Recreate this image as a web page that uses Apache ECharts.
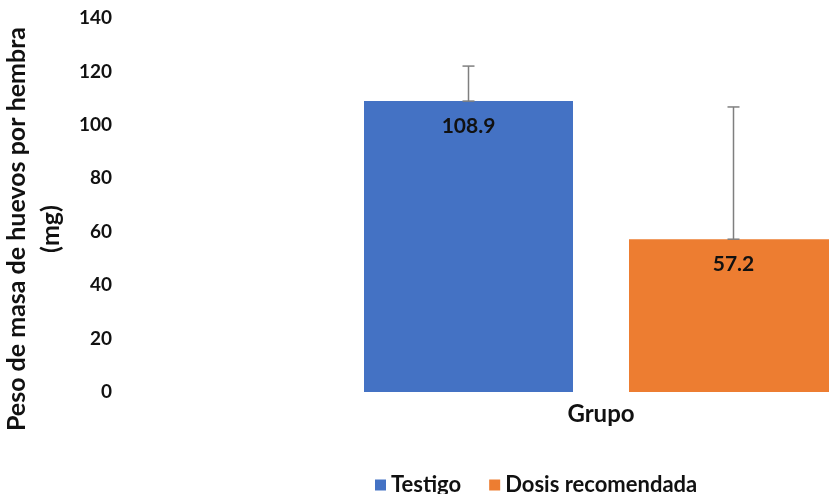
<!DOCTYPE html>
<html><head><meta charset="utf-8">
<script src="https://cdn.jsdelivr.net/npm/echarts@6/dist/echarts.min.js"></script>
<style>html,body{margin:0;padding:0;background:#fff}#c{width:829px;height:494px}</style>
</head><body><div id="c"></div>
<script>
const seriesNames = ['Testigo', 'Dosis recomendada'];
const means = [108.9, 57.2];
const errors = [13.1, 49.5];
const yTicks = [0, 20, 40, 60, 80, 100, 120, 140];
const colors = ['#4472C4', '#ED7D31'];

const FONT = 'Lato';
const chart = echarts.init(document.getElementById('c'));
const barSeries = seriesNames.map((n, i) => ({
  name: n,
  type: 'bar',
  stack: 'g',
  barWidth: 209,
  itemStyle: { color: colors[i] },
  data: means.map((v, j) => (j === i ? v : '-')),
  label: {
    show: true, position: 'insideTop', distance: 15,
    color: '#111', fontFamily: FONT, fontWeight: 'bold', fontSize: 21,
    formatter: p => p.value.toFixed(1)
  }
}));
chart.setOption({
  backgroundColor: '#fff',
  animation: false,
  grid: { left: 336, top: 18, width: 530, bottom: 102, containLabel: false, outerBoundsMode: 'none' },
  legend: {
    data: seriesNames, left: 370, top: 469, icon: 'rect', itemWidth: 11, itemHeight: 11, itemGap: 28,
    textStyle: { fontFamily: FONT, fontWeight: 'bold', fontSize: 22, color: '#111' }
  },
  xAxis: {
    type: 'category', data: seriesNames,
    axisLine: { show: false }, axisTick: { show: false }, axisLabel: { show: false },
    name: 'Grupo', nameLocation: 'middle', nameGap: 10,
    nameTextStyle: { fontFamily: FONT, fontWeight: 'bold', fontSize: 24, color: '#111' }
  },
  yAxis: {
    type: 'value', min: yTicks[0], max: yTicks[yTicks.length - 1], interval: 20,
    axisLine: { show: false }, axisTick: { show: false }, splitLine: { show: false },
    axisLabel: { margin: 224, fontFamily: FONT, fontWeight: 'bold', fontSize: 19, color: '#111' },
    name: 'Peso de masa de huevos por hembra\n(mg)', nameLocation: 'middle', nameGap: 264,
    nameTextStyle: { fontFamily: FONT, fontWeight: 'bold', fontSize: 25, color: '#111', lineHeight: 34, align: 'center', padding: [0, 48, 0, 0] }
  },
  series: barSeries.concat([{
    type: 'custom',
    name: 'err',
    z: 5,
    data: means.map((v, i) => [i, v, v + errors[i]]),
    renderItem: (params, api) => {
      const base = api.coord([api.value(0), api.value(1)]);
      const top = api.coord([api.value(0), api.value(2)]);
      const cap = 6;
      const st = { stroke: '#7f7f7f', lineWidth: 1.5 };
      return { type: 'group', children: [
        { type: 'line', shape: { x1: base[0], y1: base[1], x2: top[0], y2: top[1] }, style: st },
        { type: 'line', shape: { x1: top[0] - cap, y1: top[1], x2: top[0] + cap, y2: top[1] }, style: st },
        { type: 'line', shape: { x1: base[0] - cap, y1: base[1], x2: base[0] + cap, y2: base[1] }, style: st }
      ]};
    }
  }])
});
</script></body></html>
